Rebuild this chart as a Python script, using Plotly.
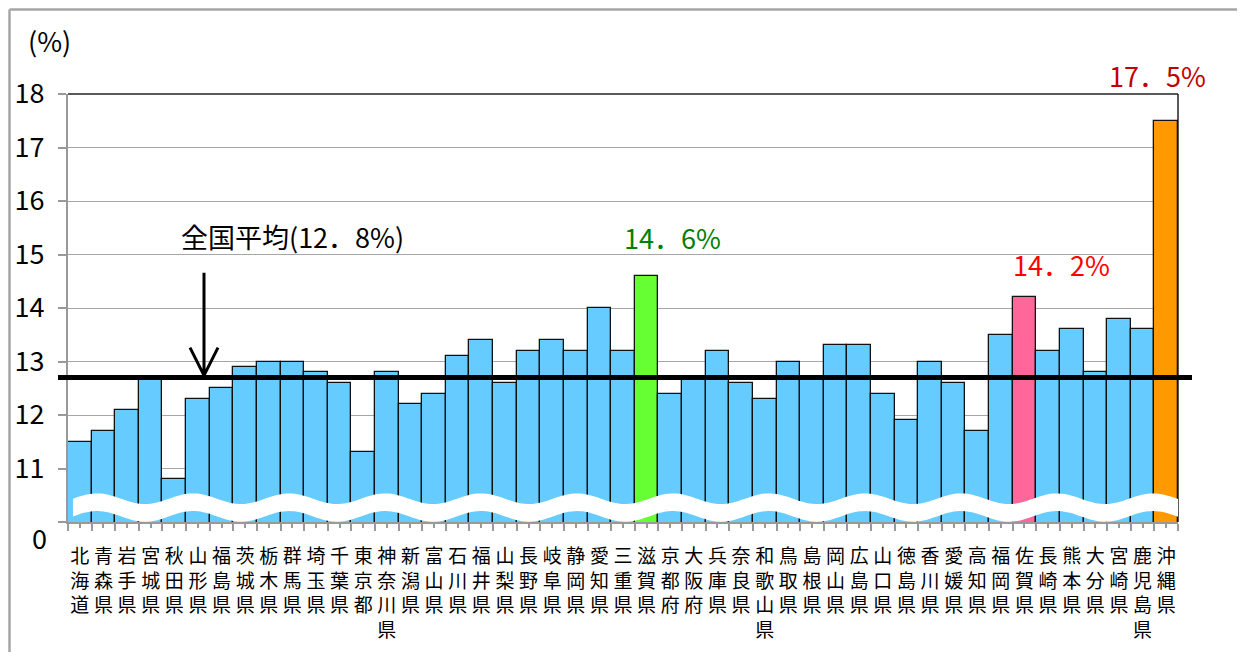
import numpy as np
import plotly.graph_objects as go

# prefectures and rates (%)
prefectures = [
    "北海道", "青森県", "岩手県", "宮城県", "秋田県", "山形県", "福島県", "茨城県",
    "栃木県", "群馬県", "埼玉県", "千葉県", "東京都", "神奈川県", "新潟県", "富山県",
    "石川県", "福井県", "山梨県", "長野県", "岐阜県", "静岡県", "愛知県", "三重県",
    "滋賀県", "京都府", "大阪府", "兵庫県", "奈良県", "和歌山県", "鳥取県", "島根県",
    "岡山県", "広島県", "山口県", "徳島県", "香川県", "愛媛県", "高知県", "福岡県",
    "佐賀県", "長崎県", "熊本県", "大分県", "宮崎県", "鹿児島県", "沖縄県",
]
rates = [
    11.5, 11.7, 12.1, 12.7, 10.8, 12.3, 12.5, 12.9,
    13.0, 13.0, 12.8, 12.6, 11.3, 12.8, 12.2, 12.4,
    13.1, 13.4, 12.6, 13.2, 13.4, 13.2, 14.0, 13.2,
    14.6, 12.4, 12.7, 13.2, 12.6, 12.3, 13.0, 12.7,
    13.3, 13.3, 12.4, 11.9, 13.0, 12.6, 11.7, 13.5,
    14.2, 13.2, 13.6, 12.8, 13.8, 13.6, 17.5,
]
national_avg_line = 12.7
national_avg_text = "全国平均(12．8%)"
y_tick_vals = [10, 11, 12, 13, 14, 15, 16, 17, 18]
y_tick_text = ["", "11", "12", "13", "14", "15", "16", "17", "18"]

# highlighted bars: prefecture -> (bar colour, label, label colour)
highlights = {
    "滋賀県": ("#66FF33", "14．6%", "#008000"),
    "佐賀県": ("#FF6699", "14．2%", "#FF0000"),
    "沖縄県": ("#FF9900", "17．5%", "#C00000"),
}

FONT = "Noto Sans CJK JP"
OFF = 8  # page body margin
W, H = 1245 - 2 * OFF, 660 - 2 * OFF
L, T = 68 - OFF, 94 - OFF
R = W - (1178 - OFF)
B = H - (522 - OFF)
PW, PH = W - L - R, H - T - B


def px_x(px):
    # reference page pixel -> paper x
    return (px - OFF - L) / PW


def px_y(py):
    # reference page pixel -> paper y
    return (H - B - (py - OFF)) / PH


x = list(range(len(prefectures)))
colors = [highlights[p][0] if p in highlights else "#66CCFF" for p in prefectures]

fig = go.Figure(
    go.Bar(
        x=x,
        y=rates,
        width=1.0,
        marker=dict(color=colors, line=dict(color="#111111", width=1.3)),
        hoverinfo="skip",
    )
)

fig.update_layout(
    width=W,
    height=H,
    margin=dict(l=L, r=R, t=T, b=B, autoexpand=False),
    paper_bgcolor="white",
    plot_bgcolor="white",
    showlegend=False,
    font=dict(family=FONT, color="black"),
    bargap=0,
)

fig.update_xaxes(
    range=[-0.5, len(prefectures) - 0.5],
    tickmode="array",
    tickvals=x,
    ticktext=["<br>".join(p) for p in prefectures],
    tickfont=dict(size=19, family=FONT, color="black"),
    ticks="outside",
    ticklen=4,
    tickwidth=2,
    tickcolor="#999999",
    ticklabelstandoff=12,
    minor=dict(tick0=-0.5, dtick=1, ticks="outside", ticklen=7, tickwidth=2, tickcolor="#999999"),
    showline=True,
    linecolor="#999999",
    linewidth=2,
    showgrid=False,
    zeroline=False,
)

fig.update_yaxes(
    range=[10, 18],
    tickmode="array",
    tickvals=y_tick_vals,
    ticktext=y_tick_text,
    tickfont=dict(size=27, family=FONT, color="black"),
    ticks="outside",
    ticklen=8,
    tickwidth=2,
    tickcolor="#999999",
    ticklabelstandoff=8,
    showline=True,
    linecolor="#999999",
    linewidth=2,
    showgrid=True,
    gridcolor="#A6A6A6",
    gridwidth=1.3,
    zeroline=False,
)

# white wavy band marking the broken axis
wave_x = np.linspace(-0.29, len(prefectures) - 0.5, 400)
wave_c = 10.27 + 0.1 * np.cos(2 * np.pi * (wave_x - 0.728) / 4.065)
top = [f"{a:.3f},{b:.3f}" for a, b in zip(wave_x, wave_c + 0.165)]
bot = [f"{a:.3f},{b:.3f}" for a, b in zip(wave_x[::-1], wave_c[::-1] - 0.165)]
fig.add_shape(
    type="path",
    path="M " + " L ".join(top + bot) + " Z",
    xref="x", yref="y",
    fillcolor="white",
    line=dict(width=0),
    layer="above",
)

# plot frame: dark top and right edges
fig.add_shape(type="line", xref="paper", yref="paper", x0=0, x1=1, y0=1, y1=1,
              line=dict(color="#222222", width=1.5), layer="below")
fig.add_shape(type="line", xref="paper", yref="paper", x0=1, x1=1, y0=0, y1=1,
              line=dict(color="#222222", width=1.5), layer="below")

# national average line and arrow
fig.add_shape(type="line", xref="paper", yref="y", x0=px_x(58), x1=px_x(1192),
              y0=national_avg_line, y1=national_avg_line,
              line=dict(color="black", width=5), layer="above")
ax = px_x(204)
wing = 14 / PW
fig.add_shape(
    type="path",
    xref="paper", yref="y",
    path=(f"M {ax},14.66 L {ax},12.74 "
          f"M {ax - wing},13.26 L {ax},12.74 L {ax + wing},13.26"),
    line=dict(color="black", width=3),
    layer="above",
)


def label(px, py, text, size, color, xanchor="center"):
    fig.add_annotation(x=px_x(px), y=px_y(py), xref="paper", yref="paper",
                       text=text, showarrow=False, xanchor=xanchor, yanchor="middle",
                       font=dict(size=size, family=FONT, color=color))


label(292, 236, national_avg_text, 27, "black")

# value labels of the highlighted bars
label_pos = {"滋賀県": (672, 237), "佐賀県": (1061, 264), "沖縄県": (1157, 75)}
for p, (_, text, col) in highlights.items():
    label(*label_pos[p], text, 27, col)

# unit and the "0" of the broken axis
label(49, 41, "(%)", 27, "black")
label(49, 537, "0", 27, "black", xanchor="right")

# outer grey frame (only top and left edges are inside the picture)
frame = dict(color="#A6A6A6", width=2.5)
fig.add_shape(type="line", xref="paper", yref="paper",
              x0=px_x(9.5), x1=px_x(1300), y0=px_y(9.5), y1=px_y(9.5), line=frame)
fig.add_shape(type="line", xref="paper", yref="paper",
              x0=px_x(9.5), x1=px_x(9.5), y0=px_y(9.5), y1=px_y(720), line=frame)

fig.write_html("out.html")
